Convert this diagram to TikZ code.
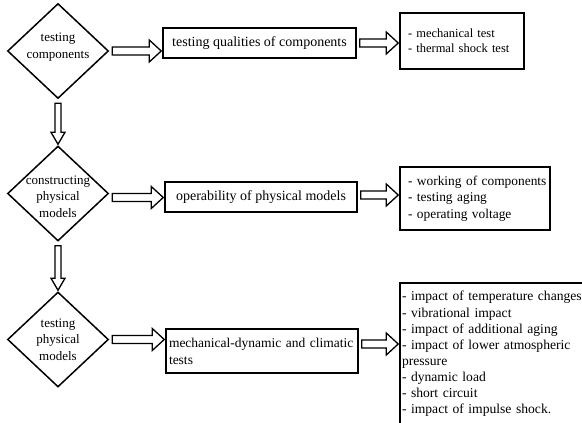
\documentclass[tikz,border=0pt]{standalone}
\usepackage{fontspec}
\setmainfont{Liberation Serif}
\usetikzlibrary{shapes.geometric,calc}
\tikzset{
 dia/.style={draw, diamond, line width=1.5pt, minimum width=101pt, minimum height=95pt, inner sep=0pt},
 diatxt/.style={align=center, font=\fontsize{13}{16.5}\selectfont, inner sep=0pt},
 box/.style={draw, rectangle, line width=1.5pt, font=\fontsize{14}{16}\selectfont},
 blk/.style={draw, line width=1.3pt, fill=white, line join=miter},
}
\newcommand{\blkH}[3]{%
 \draw[blk] let \p1=($(#1)+(3,#3)$), \p2=($(#2)+(-1,0)$) in
 (\x1,\y1+4pt) -- (\x2-12pt,\y1+4pt) -- (\x2-12pt,\y1+11pt) -- (\x2,\y1) -- (\x2-12pt,\y1-11pt) -- (\x2-12pt,\y1-4pt) -- (\x1,\y1-4pt) -- cycle;}
\newcommand{\blkV}[2]{%
 \draw[blk] let \p1=($(#1)+(0,4)$), \p2=($(#2)+(0,-1)$) in
 (\x1-3pt,\y1) -- (\x1-3pt,\y2+12pt) -- (\x1-7pt,\y2+12pt) -- (\x1,\y2) -- (\x1+7pt,\y2+12pt) -- (\x1+3pt,\y2+12pt) -- (\x1+3pt,\y1) -- cycle;}
\begin{document}
\begin{tikzpicture}[x=1pt,y=-1pt]
\useasboundingbox (0,0) rectangle (582,423);
% diamonds
\node[dia] (d1) at (58,51) {};
\node[diatxt] (t1) at ($(d1)+(0,-4)$) {testing\\components};
\node[dia] (d2) at (58,193.5) {};
\node[diatxt] (t2) at ($(d2)+(0,3)$) {constructing\\physical\\models};
\node[dia] (d3) at (58,339.5) {};
\node[diatxt] (t3) at (d3) {testing\\physical\\models};
% boxes
\node[box, minimum width=193pt, minimum height=30pt, inner sep=0pt] (b1) at (259.5,43) {testing qualities of components};
\node[box, font=\fontsize{12.5}{15}\selectfont, minimum width=124pt, minimum height=56pt, inner xsep=8pt, inner ysep=0pt, text width=108pt, align=left] (b2) at (462,41) {\mbox{- mechanical test}\\\mbox{- thermal shock test}};
\node[box, minimum width=192pt, minimum height=30pt, inner sep=0pt] (b3) at (261,197) {operability of physical models};
\node[box, font=\fontsize{13.4}{16.5}\selectfont, minimum height=63pt, inner xsep=8pt, inner ysep=0pt, text width=134pt, align=left] (b4) at (475,198.5) {\mbox{- working of components}\\\mbox{- testing aging}\\\mbox{- operating voltage}};
\node[box, font=\fontsize{13.5}{17}\selectfont, minimum height=44pt, inner xsep=3pt, inner ysep=0pt, text width=186pt, align=left] (b5) at (262,351) {\mbox{mechanical-dynamic and climatic}\\\mbox{tests}};
\node[box, font=\fontsize{13.6}{16.1}\selectfont, minimum height=142pt, inner xsep=2pt, inner ysep=0pt, text width=186pt, align=left] (b6) at (495,354) {\mbox{- impact of temperature changes}\\\mbox{- vibrational impact}\\\mbox{- impact of additional aging}\\\mbox{- impact of lower atmospheric}\\\mbox{pressure}\\\mbox{- dynamic load}\\\mbox{- short circuit}\\\mbox{- impact of impulse shock.}};
% arrows
\blkH{d1.east}{b1.west}{0}
\blkH{b1.east}{b2.west}{0}
\blkH{d2.east}{b3.west}{4}
\blkH{b3.east}{b4.west}{-2}
\blkH{d3.east}{b5.west}{0}
\blkH{b5.east}{b6.west}{-7}
\blkV{d1.south}{d2.north}
\blkV{d2.south}{d3.north}
\end{tikzpicture}
\end{document}
